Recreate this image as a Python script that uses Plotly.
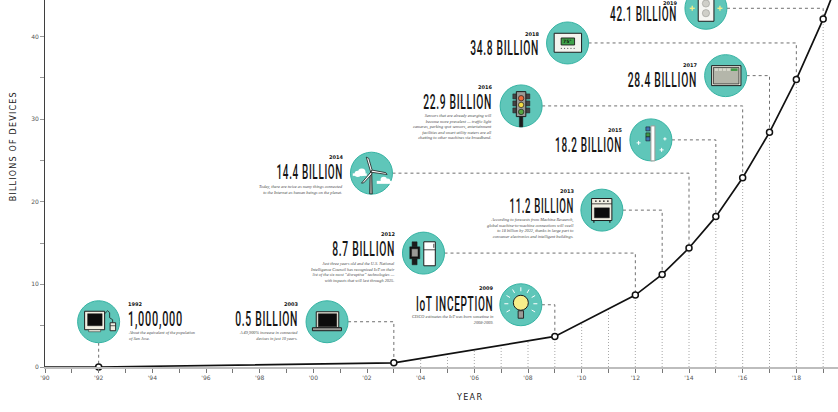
import json

import numpy as np
import plotly.graph_objects as go

# Connected devices, in billions
years = [1990, 1992, 2003, 2009, 2012, 2013, 2014, 2015, 2016, 2017, 2018, 2019, 2020]
devices = [0, 0.001, 0.5, 3.7, 8.7, 11.2, 14.4, 18.2, 22.9, 28.4, 34.8, 42.1, 50.4]
marked_years = [1992, 2003, 2009, 2012, 2013, 2014, 2015, 2016, 2017, 2018, 2019]

x_tick_years = list(range(1990, 2020))
x_tick_text = [f"'{y % 100:02d}" if y % 2 == 0 else "" for y in x_tick_years]
y_tick_vals = [0, 5, 10, 15, 20, 25, 30, 35, 40]
y_tick_text = ["0", "", "10", "", "20", "", "30", "", "40"]
guide_years = list(range(2004, 2020))

headlines = {
    1992: "1,000,000", 2003: "0.5 BILLION", 2009: "IoT INCEPTION", 2012: "8.7 BILLION",
    2013: "11.2 BILLION", 2014: "14.4 BILLION", 2015: "18.2 BILLION", 2016: "22.9 BILLION",
    2017: "28.4 BILLION", 2018: "34.8 BILLION", 2019: "42.1 BILLION",
}
captions = {
    1992: "About the equivalent of the population<br>of San Jose.",
    2003: "A 49,900% increase in connected<br>devices in just 10 years.",
    2009: "CISCO estimates the IoT was born sometime in<br>2008-2009.",
    2012: "Just three years old and the U.S. National<br>Intelligence Council has recognized IoT on their<br>"
          "list of the six most “disruptive” technologies —<br>with impacts that will last through 2025.",
    2013: "According to forecasts from Machina Research,<br>global machine-to-machine connections will swell<br>"
          "to 18 billion by 2022, thanks in large part to<br>consumer electronics and intelligent buildings.",
    2014: "Today, there are twice as many things connected<br>to the Internet as human beings on the planet.",
    2016: "Sensors that are already emerging will<br>become more prevalent — traffic light<br>"
          "cameras, parking spot sensors, entertainment<br>facilities and smart utility meters are all<br>"
          "chatting to other machines via broadband.",
}

# Page geometry of the plotting area
LEFT, BASE, W, H = 45.4, 367.3, 838, 412
PX_PER_YEAR, PX_PER_UNIT = 26.82, 8.27


def dx(px):
    return 1990 + (px - LEFT) / PX_PER_YEAR


def dy(py):
    return (BASE - py) / PX_PER_UNIT


INK = "#1c1c1c"
TEAL = "#5fc6b9"
RING = "#35b3a3"
CREAM = "#f1efe2"
GREY = "#9a9a96"
YELLOW = "#f7ee8a"
shapes = []


def box(x0, y0, x1, y1, fill=CREAM, line=INK, w=1):
    shapes.append(dict(type="rect", x0=dx(x0), x1=dx(x1), y0=dy(y0), y1=dy(y1), fillcolor=fill,
                       line=dict(color=line, width=w)))


def disc(cx, cy, r, fill=CREAM, line=INK, w=1):
    shapes.append(dict(type="circle", x0=dx(cx - r), x1=dx(cx + r), y0=dy(cy - r), y1=dy(cy + r),
                       fillcolor=fill, line=dict(color=line, width=w)))


def seg(x0, y0, x1, y1, color=INK, w=1):
    shapes.append(dict(type="line", x0=dx(x0), x1=dx(x1), y0=dy(y0), y1=dy(y1),
                       line=dict(color=color, width=w)))


def poly(points, fill=None, line=INK, w=1):
    d = "M" + " L".join(f"{dx(a)},{dy(b)}" for a, b in points)
    shape = dict(type="path", path=d + (" Z" if fill else ""), line=dict(color=line, width=w))
    if fill:
        shape["fillcolor"] = fill
    shapes.append(shape)


def spark(cx, cy, r, color="white", w=1):
    seg(cx - r, cy, cx + r, cy, color, w)
    seg(cx, cy - r, cx, cy + r, color, w)


# Badge centres on the page for each milestone
badges = {
    1992: (99, 322), 2003: (327.3, 322), 2009: (521, 305), 2012: (423.7, 253.3),
    2013: (602, 210.3), 2014: (371.7, 173.3), 2015: (651, 140), 2016: (521.3, 106),
    2017: (725.7, 75.7), 2018: (567.7, 43), 2019: (706, 8.3),
}
for cx, cy in badges.values():
    disc(cx, cy, 21, fill=TEAL, line=RING, w=1)

# 1992 desktop computer
box(85, 311.5, 105, 330)
box(88, 314, 102.5, 326, fill="#0c0c0c", w=0.5)
box(89, 330, 101, 332, w=0.5)
poly([(105, 314), (108, 311), (110, 313), (110, 318), (113, 320), (113, 323)], w=0.8)
box(110.5, 323, 116, 331, w=0.9)
seg(110.5, 326, 116, 326, w=0.7)

# 2003 laptop
box(316.5, 312, 339, 328, fill=CREAM)
box(318.5, 314, 337, 327, fill="#0c0c0c", w=0.5)
box(312.7, 328, 341.7, 331, fill=GREY)

# 2009 light bulb
for a in np.deg2rad([0, 30, 60, 120, 150, 180, 210, 330, 90]):
    seg(521 + 12.5 * np.cos(a), 304 - 12.5 * np.sin(a), 521 + 16.5 * np.cos(a), 304 - 16.5 * np.sin(a), "white", 1)
disc(521, 303, 7.5, fill=YELLOW)
box(518.3, 311, 523.7, 318.5, fill=GREY, w=0.9)

# 2012 smart watch and fridge
box(412.3, 242, 417.3, 247, fill=INK, w=0.5)
box(412.3, 259, 417.3, 265, fill=INK, w=0.5)
box(410, 247, 420, 259, fill="#111111", w=0.5)
box(411.8, 249, 418.2, 257, fill=GREY, w=0.5)
box(424, 242, 435.5, 266, fill="white")
seg(424, 250, 435.5, 250, w=0.8)
seg(434, 244, 434, 248, w=0.8)

# 2013 oven
box(591.7, 198.7, 612, 220.7)
seg(592, 204, 612, 204, w=0.8)
for i in range(4):
    disc(596 + i * 4, 201.3, 0.8, fill=INK, w=0)
box(594.5, 208, 609.5, 218, fill="#0c0c0c", w=0.5)
seg(594, 221, 594, 223, w=1.2)
seg(610, 221, 610, 223, w=1.2)

# 2014 wind turbine and clouds
disc(358, 174, 3.2, fill="white", line="white", w=0)
disc(362, 172.5, 3.8, fill="white", line="white", w=0)
box(353, 173.5, 367, 176, fill="white", line="white", w=0)
disc(384, 180, 3.2, fill="white", line="white", w=0)
disc(388, 181, 2.4, fill="white", line="white", w=0)
box(377, 181, 392, 184, fill="white", line="white", w=0)
poly([(370.3, 173), (372, 173), (372.6, 194), (369.8, 194)], fill=GREY, w=0.7)
poly([(371, 172.3), (366.5, 157.3), (369, 158.5), (372.3, 170)], fill="white", w=0.8)
poly([(371, 172.3), (387.3, 174.6), (386, 172.8), (372.5, 170.3)], fill="white", w=0.8)
poly([(371, 172.3), (361.7, 183.3), (364, 183), (372.3, 174)], fill="white", w=0.8)

# 2015 cell tower
box(651, 126, 655, 161, fill="white", line=GREY, w=1)
box(646, 127, 650, 131, fill="#3f74b5", w=0.6)
box(646, 133, 650, 137, fill="#3e9a45", w=0.6)
box(646, 137, 650, 141, fill="#3f74b5", w=0.6)
spark(638.7, 143, 2)
spark(665, 139, 1.6)
spark(661.7, 150, 2)

# 2016 traffic light
box(519.5, 116.5, 523, 127, fill=INK, w=0.5)
box(513, 94, 530, 99, fill="#444444", w=0.5)
box(513, 101, 530, 106, fill="#444444", w=0.5)
box(513, 108, 530, 113, fill="#444444", w=0.5)
box(516.5, 91.7, 526, 116.7, fill=GREY)
disc(521.3, 98.3, 2.7, fill="#ee6a3a", w=0.7)
disc(521.3, 105, 2.7, fill="#f4dc45", w=0.7)
disc(521.3, 112, 2.7, fill="#55a63f", w=0.7)

# 2017 control panel
box(711.7, 65.7, 741, 85.7)
box(713.5, 67.5, 739, 84, fill="#b4b6aa", w=0.7)
box(731, 68.5, 737.5, 71, fill="#3e9a45", w=0)
for i in range(4):
    box(715 + i * 4, 68.5, 718 + i * 4, 71, fill="#d8d8cc", w=0)

# 2018 thermostat
box(554.3, 33.3, 581.7, 52.3, fill="#f4f4ee", w=1)
box(561.3, 38, 574.7, 45, fill="#3fa24a", w=0.9)
for i in range(5):
    disc(561.5 + i * 3.2, 48.5, 0.6, fill="#666666", w=0)

# 2019 wall outlet with sparks
box(698.3, -2, 714, 21.3, fill="#f6f6f2", w=1)
disc(706, 3.5, 3.6, fill="#cfcfc8", line=GREY, w=0.6)
disc(706, 13.2, 3.6, fill="#cfcfc8", line=GREY, w=0.6)
spark(692.3, 8.3, 2.5, YELLOW, 1.3)
spark(720, 8.3, 2.5, YELLOW, 1.3)

fig = go.Figure()

# Dotted guides rising from the axis to the curve
guide_x, guide_y = [], []
for y in guide_years:
    guide_x += [y, y, None]
    guide_y += [0, float(np.interp(y, years, devices)), None]
fig.add_trace(go.Scatter(x=guide_x, y=guide_y, mode="lines", hoverinfo="skip", cliponaxis=False,
                         line=dict(color="#a8a8a8", width=1, dash="1px,2px")))

# Dashed leaders from each badge to its point on the curve
for year in marked_years:
    value = float(np.interp(year, years, devices))
    cx, cy = badges[year]
    if year == 1992:
        xs, ys = [year, year], [dy(cy + 21), value]
    else:
        xs, ys = [dx(cx + 21), year, year], [dy(cy), dy(cy), value]
    fig.add_trace(go.Scatter(x=xs, y=ys, mode="lines", hoverinfo="skip", cliponaxis=False,
                             line=dict(color="#6f6f6f", width=1, dash="3px,3px")))

# The growth curve
fig.add_trace(go.Scatter(x=years, y=devices, mode="lines", hoverinfo="skip", cliponaxis=False,
                         line=dict(color="#111111", width=1.7)))
fig.add_trace(go.Scatter(x=marked_years, y=[float(np.interp(y, years, devices)) for y in marked_years],
                         mode="markers", hoverinfo="skip", cliponaxis=False,
                         marker=dict(size=6, color="white", line=dict(color="#111111", width=1.5))))

notes = []


def note(px, py, text, size, family, color, anchor="right", **font_extra):
    notes.append(dict(xref="paper", yref="paper", x=(px - LEFT) / (W - LEFT), y=(BASE - py) / BASE,
                      text=text, showarrow=False, xanchor=anchor, align=anchor,
                      yanchor="middle", borderpad=0, borderwidth=0,
                      font=dict(size=size, family=family, color=color, **font_extra)))


# Text blocks: anchor x, year line y, headline y, caption y, alignment
blocks = {
    1992: (128, 304, 319.3, 336, "left"), 2003: (298, 304, 319.3, 336, "right"),
    2009: (492.7, 288.3, 304, 320.2, "right"), 2012: (395, 234.3, 249.5, 272.3, "right"),
    2013: (573.7, 191, 206, 228.5, "right"), 2014: (343.3, 156.7, 172.3, 189.2, "right"),
    2015: (621.7, 129.7, 145, None, "right"), 2016: (492, 86.7, 101.7, 126.8, "right"),
    2017: (696.7, 65, 80, None, "right"), 2018: (539, 33.7, 48.3, None, "right"),
    2019: (677, 2.6, 14, None, "right"),
}
for year, (ax, y_year, y_head, y_cap, side) in blocks.items():
    note(ax, y_year, str(year), 5, "DejaVu Sans", "#111111", side, weight="bold")
    note(ax, y_head, headlines[year], 21, "Roboto", "#151515", side, weight=500)
    if y_cap is not None:
        note(ax, y_cap, captions[year], 4.3, "Liberation Serif", "#4a4a4a", side, style="italic")

note(568, 41.5, "75°", 4.5, "DejaVu Sans", "#10240f", "center", weight="bold")
note(14, 147, "BILLIONS OF DEVICES", 8, "DejaVu Sans", "#222222", "center")
notes[-1]["textangle"] = -90
note(469, 398, "YEAR", 8, "DejaVu Sans", "#222222", "center")

fig.update_layout(
    width=W, height=H, margin=dict(l=LEFT, r=0, t=0, b=H - BASE, pad=0),
    paper_bgcolor="white", plot_bgcolor="white", showlegend=False,
    shapes=shapes, annotations=notes,
    xaxis=dict(range=[1990, dx(W)], tickmode="array", tickvals=x_tick_years, ticktext=x_tick_text,
               ticks="outside", ticklen=4, tickwidth=1, tickcolor="#777777", showgrid=False, zeroline=False,
               showline=True, linecolor="#bdbdbd", linewidth=2, tickangle=0,
               tickfont=dict(size=6, family="DejaVu Sans", color="#555555")),
    yaxis=dict(range=[0, dy(0)], tickmode="array", tickvals=y_tick_vals, ticktext=y_tick_text,
               ticks="outside", ticklen=4, tickwidth=1, tickcolor="#999999", showgrid=False, zeroline=False,
               showline=True, linecolor="#3f3f3f", linewidth=1,
               tickfont=dict(size=6, family="DejaVu Sans", color="#555555")),
)

# Rendered widths, in pixels, of the condensed headlines and spaced-out axis titles
squeezed = {"1,000,000": 55, "0.5 BILLION": 63, "IoT INCEPTION": 77.5, "8.7 BILLION": 63,
            "11.2 BILLION": 64.5, "14.4 BILLION": 66.6, "18.2 BILLION": 67, "22.9 BILLION": 69,
            "28.4 BILLION": 69.4, "34.8 BILLION": 69, "42.1 BILLION": 67}
spaced = {"BILLIONS OF DEVICES": 109, "YEAR": 25}
finish = """
var gd = document.getElementById('{plot_id}');
var squeezed = %s, spaced = %s;
gd.querySelectorAll('.annotation-text').forEach(function (t) {
  var s = t.textContent;
  if (squeezed[s]) {
    t.style.letterSpacing = '1.4px';
    var k = squeezed[s] / t.getComputedTextLength();
    var x = parseFloat(t.getAttribute('x')) || 0;
    t.setAttribute('transform', 'translate(' + x + ',0) scale(' + k + ',1) translate(' + (-x) + ',0)');
  } else if (spaced[s]) {
    t.setAttribute('textLength', spaced[s]);
    t.setAttribute('lengthAdjust', 'spacing');
  }
});
""" % (json.dumps(squeezed), json.dumps(spaced))
fig.write_html("out.html", post_script=finish)
